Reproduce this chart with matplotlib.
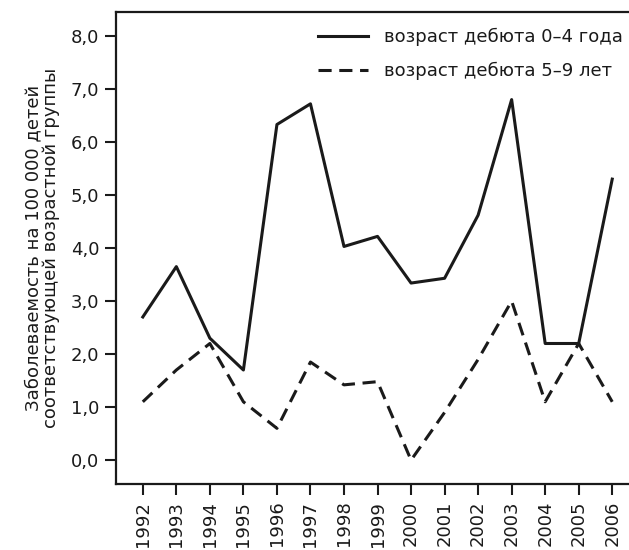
import matplotlib
matplotlib.use("Agg")
import matplotlib.pyplot as plt

plt.rcParams['font.family'] = ['DejaVu Sans']

years = [1992, 1993, 1994, 1995, 1996, 1997, 1998, 1999, 2000, 2001, 2002, 2003, 2004, 2005, 2006]
onset_0_4 = [2.7, 3.65, 2.3, 1.7, 6.33, 6.72, 4.03, 4.22, 3.34, 3.43, 4.62, 6.8, 2.2, 2.2, 5.3]
onset_5_9 = [1.1, 1.7, 2.2, 1.1, 0.6, 1.85, 1.42, 1.48, 0.0, 0.9, 1.9, 3.0, 1.1, 2.2, 1.1]
series_labels = ["возраст дебюта 0–4 года", "возраст дебюта 5–9 лет"]
yticks = [0, 1, 2, 3, 4, 5, 6, 7, 8]
ytick_labels = ["0,0", "1,0", "2,0", "3,0", "4,0", "5,0", "6,0", "7,0", "8,0"]
ylabel = "Заболеваемость на 100 000 детей\nсоответствующей возрастной группы"

col = '#1a1a1a'
fs = 13
fig = plt.figure(figsize=(6.29, 5.5), dpi=100)
ax = fig.add_axes([0.1844, 0.12, 0.8156, 0.858])

ax.plot(years, onset_0_4, color=col, lw=2.2, ls='-', label=series_labels[0])
ax.plot(years, onset_5_9, color=col, lw=2.2, ls=(0, (4.3, 2.5)), label=series_labels[1])

ax.set_xlim(1991.2, 2006.5)
ax.set_ylim(-0.45, 8.45)
ax.set_xticks(years)
ax.set_xticklabels([str(y) for y in years], rotation=90, fontsize=fs, color=col)
ax.set_yticks(yticks)
ax.set_yticklabels(ytick_labels, fontsize=fs, color=col)
ax.tick_params(axis='both', direction='out', length=8, width=1.5, color=col, pad=4)
for s in ax.spines.values():
    s.set_linewidth(1.6)
    s.set_color(col)
ax.spines['right'].set_visible(False)

ax.set_ylabel(ylabel, fontsize=fs, color=col, linespacing=0.95, labelpad=8)

leg = ax.legend(loc='upper right', frameon=False, fontsize=fs, handlelength=2.8,
                handletextpad=0.9, borderaxespad=0.2, labelspacing=0.85,
                bbox_to_anchor=(1.01, 0.989))
for t in leg.get_texts():
    t.set_color(col)

fig.savefig('out.png', dpi=100)
